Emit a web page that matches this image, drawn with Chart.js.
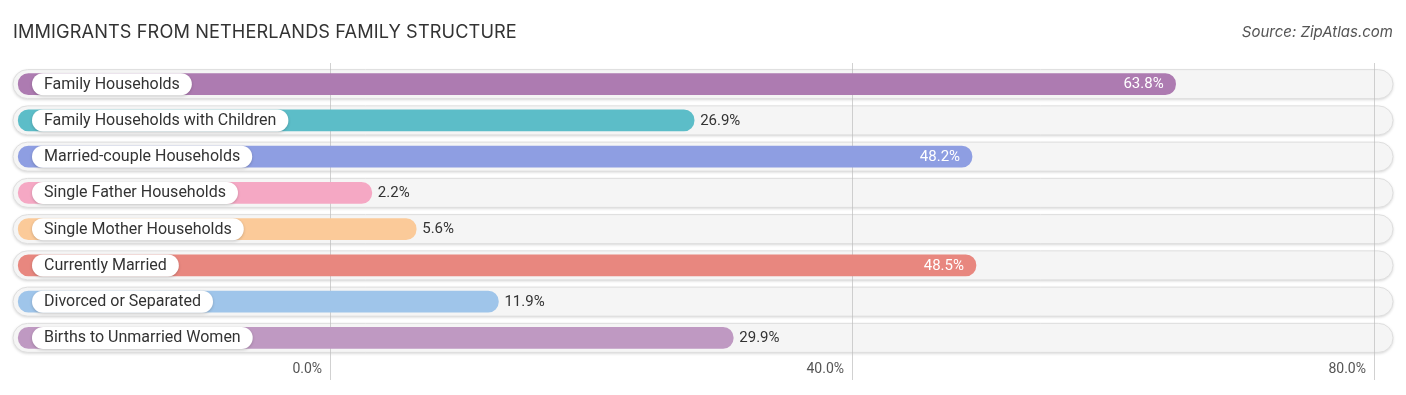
<!DOCTYPE html>
<html>
<head>
<meta charset="utf-8">
<script src="https://cdn.jsdelivr.net/npm/chart.js@4.4.1/dist/chart.umd.min.js"></script>
<style>
  body { margin: 0; background: #fff; }
  #wrap { position: relative; width: 1406px; height: 395px; }
  #title { position: absolute; left: 13px; top: 20px; font: 400 18.2px "Inter", "Noto Sans", sans-serif; color: #333; letter-spacing: 0.1px; }
  #source { position: absolute; right: 13px; top: 22px; font: italic 400 15px "Inter", "Noto Sans", sans-serif; color: #555; }
  canvas { position: absolute; left: 0; top: 0; }
</style>
</head>
<body>
<div id="wrap">
  <canvas id="myChart" width="1406" height="395"></canvas>
  <div id="title">IMMIGRANTS FROM NETHERLANDS FAMILY STRUCTURE</div>
  <div id="source">Source: ZipAtlas.com</div>
</div>
<script>
// data
const categories = [
  "Family Households",
  "Family Households with Children",
  "Married-couple Households",
  "Single Father Households",
  "Single Mother Households",
  "Currently Married",
  "Divorced or Separated",
  "Births to Unmarried Women",
];
const values = [63.8, 26.9, 48.2, 2.2, 5.6, 48.5, 11.9, 29.9];
const barColors = [
  "#ad7bb1", "#5cbdc8", "#8e9ee2", "#f5a8c4",
  "#fbca99", "#e8877f", "#9fc5ea", "#bf99c2",
];
const tickValues = [0, 40, 80];

// axis range: the bars start under the labels, left of zero
const xMin = -24.3;
const xMax = 81.46;
const barStart = -23.9;

const fmt = (v) => v.toFixed(1) + "%";

function roundRect(ctx, x, y, w, h, r) {
  ctx.beginPath();
  ctx.moveTo(x + r, y);
  ctx.lineTo(x + w - r, y);
  ctx.arc(x + w - r, y + r, r, -Math.PI / 2, Math.PI / 2);
  ctx.lineTo(x + r, y + h);
  ctx.arc(x + r, y + r, r, Math.PI / 2, Math.PI * 1.5);
  ctx.closePath();
}

const decorations = {
  id: "decorations",
  beforeDatasetsDraw(chart) {
    const { ctx, chartArea, scales } = chart;
    const x = scales.x, y = scales.y;
    ctx.save();
    // background tracks
    categories.forEach((c, i) => {
      const cy = y.getPixelForValue(i);
      ctx.shadowColor = "rgba(0,0,0,0.18)";
      ctx.shadowBlur = 3;
      ctx.shadowOffsetY = 1;
      roundRect(ctx, chartArea.left, cy - 14.5, chartArea.right - chartArea.left, 29, 14.5);
      ctx.fillStyle = "#f5f5f5";
      ctx.fill();
      ctx.shadowColor = "transparent";
      ctx.strokeStyle = "#dedede";
      ctx.lineWidth = 1;
      ctx.stroke();
    });
    // grid lines
    ctx.strokeStyle = "rgba(190,190,190,0.7)";
    ctx.lineWidth = 1;
    tickValues.forEach((t) => {
      const px = Math.round(x.getPixelForValue(t)) + 0.5;
      ctx.beginPath();
      ctx.moveTo(px, chartArea.top - 3);
      ctx.lineTo(px, chartArea.bottom + 24);
      ctx.stroke();
    });
    // tick labels
    ctx.fillStyle = "#555";
    ctx.font = "400 14px Roboto, sans-serif";
    ctx.textAlign = "right";
    ctx.textBaseline = "middle";
    tickValues.forEach((t) => {
      ctx.fillText(fmt(t), x.getPixelForValue(t) - 8, chartArea.bottom + 13);
    });
    ctx.restore();
  },
  afterDatasetsDraw(chart) {
    const { ctx, scales } = chart;
    const x = scales.x, y = scales.y;
    ctx.save();
    ctx.textBaseline = "middle";
    categories.forEach((c, i) => {
      const cy = y.getPixelForValue(i);
      // category label pill
      ctx.font = "400 16px Roboto, sans-serif";
      const w = ctx.measureText(c).width;
      ctx.shadowColor = "rgba(0,0,0,0.2)";
      ctx.shadowBlur = 3;
      ctx.shadowOffsetY = 1;
      roundRect(ctx, 32, cy - 11, w + 24, 22, 11);
      ctx.fillStyle = "#fff";
      ctx.fill();
      ctx.shadowColor = "transparent";
      ctx.fillStyle = "#333";
      ctx.textAlign = "left";
      ctx.fillText(c, 44, cy + 0.5);
      // value label
      const end = x.getPixelForValue(values[i] + 1);
      ctx.font = "400 15px Roboto, sans-serif";
      if (values[i] > 40) {
        ctx.fillStyle = "#fff";
        ctx.textAlign = "right";
        ctx.fillText(fmt(values[i]), end - 12, cy + 0.5);
      } else {
        ctx.fillStyle = "#333";
        ctx.textAlign = "left";
        ctx.fillText(fmt(values[i]), end + 6, cy + 0.5);
      }
    });
    ctx.restore();
  },
};

const ctx = document.getElementById("myChart").getContext("2d");
new Chart(ctx, {
  type: "bar",
  data: {
    labels: categories,
    datasets: [
      {
        data: values.map((v) => [barStart, v + 1]),
        backgroundColor: barColors,
        borderRadius: 11,
        borderSkipped: false,
        barThickness: 21,
      },
    ],
  },
  options: {
    indexAxis: "y",
    responsive: false,
    devicePixelRatio: 1,
    animation: false,
    layout: { padding: { top: 66, bottom: 39, left: 13, right: 13 } },
    plugins: { legend: { display: false }, tooltip: { enabled: false } },
    scales: {
      x: { display: false, min: xMin, max: xMax },
      y: { display: false },
    },
  },
  plugins: [decorations],
});
</script>
</body>
</html>
